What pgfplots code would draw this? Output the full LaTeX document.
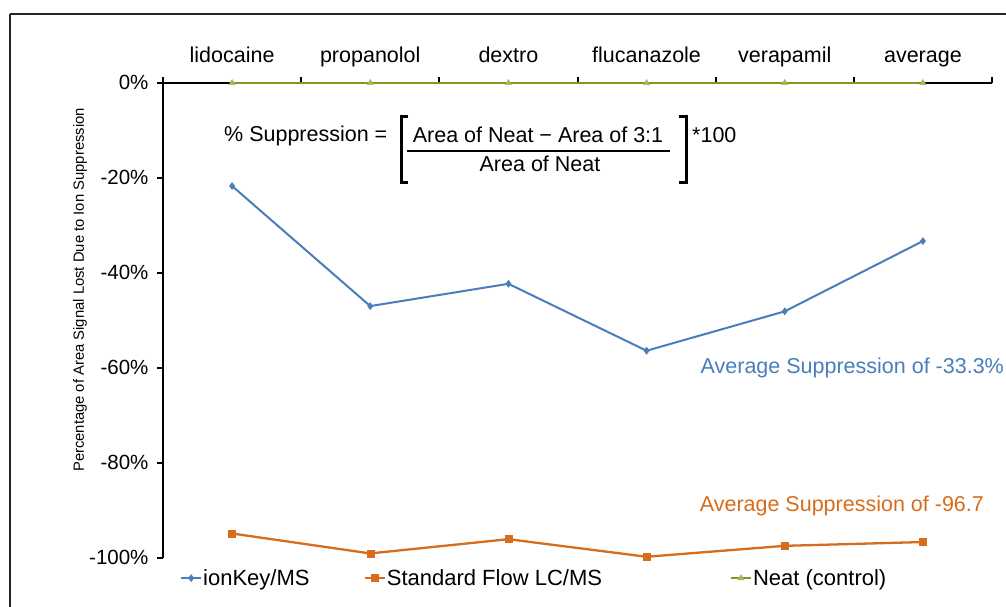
\documentclass[border=0pt]{standalone}
\usepackage{fontspec}
\setmainfont{Liberation Sans}
\usepackage{pgfplots}
\pgfplotsset{compat=1.18}

\definecolor{keyblue}{RGB}{74,126,187}
\definecolor{floworange}{RGB}{214,108,28}
\definecolor{neatgreen}{RGB}{155,187,89}
\definecolor{neatline}{RGB}{130,152,30}

\newcommand{\fs}[1]{\fontsize{#1}{#1}\selectfont}

\begin{document}
\begin{tikzpicture}
\useasboundingbox (0pt,0pt) rectangle (1006pt,606pt);
\clip (0pt,0pt) rectangle (1006pt,606pt);
% outer frame of the chart area
\draw[line width=1.5pt, black!85] (10pt,592pt) -- (1040pt,592pt)
  (10pt,592pt) -- (10pt,-20pt);

\begin{axis}[
  at={(163pt,48.3pt)}, anchor=south west,
  scale only axis, width=829pt, height=474.7pt,
  xmin=-0.5, xmax=5.5, ymin=-100, ymax=0,
  axis x line=top, axis y line=left,
  axis line style={-, line width=2pt, black},
  tick style={line width=2pt, black},
  tick align=outside, major tick length=6pt,
  xtick={-0.5,0.5,1.5,2.5,3.5,4.5,5.5}, xticklabels={},
  extra x ticks={0,1,2,3,4,5},
  extra x tick labels={lidocaine,propanolol,dextro,flucanazole,verapamil,average},
  extra x tick style={major tick length=0pt, xticklabel style={yshift=10.5pt}},
  typeset ticklabels with strut,
  ytick={-100,-80,-60,-40,-20,0},
  yticklabels={-100\%,-80\%,-60\%,-40\%,-20\%,0\%},
  yticklabel style={font=\fs{20.5}, xshift=-5pt, yshift=-2.5pt},
  xticklabel style={font=\fs{21.5}},
  every axis y label/.style={at={(axis description cs:-0.1,0.564)}, rotate=90, anchor=center},
  ylabel={\fs{14.8}Percentage of Area Signal Lost Due to Ion Suppression},
  clip=false,
  legend columns=3,
  legend style={draw=none, fill=none, inner sep=0pt,
    at={(axis description cs:0.0205,-0.043)}, anchor=west,
    font=\fs{22},
    nodes={inner sep=1pt},
    /tikz/column 2/.style={column sep=53pt},
    /tikz/column 4/.style={column sep=127pt}},
  legend image code/.code={
    \draw[mark repeat=2,mark phase=2,#1] plot coordinates {(0pt,0pt) (10pt,0pt) (20pt,0pt)};},
]
\addplot[keyblue, line width=2pt, mark=diamond*, mark size=3.5pt, mark options={line width=0.5pt}]
  coordinates {(0,-21.7) (1,-47.0) (2,-42.3) (3,-56.4) (4,-48.1) (5,-33.3)};
\addlegendentry{ionKey/MS}
\addplot[floworange, line width=2.3pt, mark=square*, mark size=3.5pt, mark options={line width=0.5pt}]
  coordinates {(0,-94.9) (1,-99.1) (2,-96.1) (3,-99.8) (4,-97.5) (5,-96.7)};
\addlegendentry{Standard Flow LC/MS}
\addplot[neatline, line width=2pt, mark=triangle*, mark size=3.5pt, mark options={neatgreen, line width=0.5pt}]
  coordinates {(0,0) (1,0) (2,0) (3,0) (4,0) (5,0)};
\addlegendentry{Neat (control)}

\node[anchor=west, text=keyblue, font=\fs{21.5}] at (axis cs:3.366,-60.1) {Average Suppression of -33.3\%};
\node[anchor=west, text=floworange, font=\fs{21.5}] at (axis cs:3.36,-89.2) {Average Suppression of -96.7};
\end{axis}

% suppression formula
\begin{scope}[font=\fs{21.5}]
\node[anchor=west, inner sep=0pt] at (224pt,470pt) {\% Suppression =};
\node[inner sep=0pt] at (538pt,471pt) {Area of Neat − Area of 3:1};
\draw[line width=1.5pt] (407pt,455pt) -- (670pt,455pt);
\node[inner sep=0pt] at (540pt,442pt) {Area of Neat};
\draw[line width=3pt] (408pt,489pt) -- (401pt,489pt) -- (401pt,423pt) -- (408pt,423pt);
\draw[line width=3pt] (679pt,489pt) -- (686pt,489pt) -- (686pt,423pt) -- (679pt,423pt);
\node[anchor=west, inner sep=0pt] at (692pt,471pt) {*100};
\end{scope}
\end{tikzpicture}
\end{document}
